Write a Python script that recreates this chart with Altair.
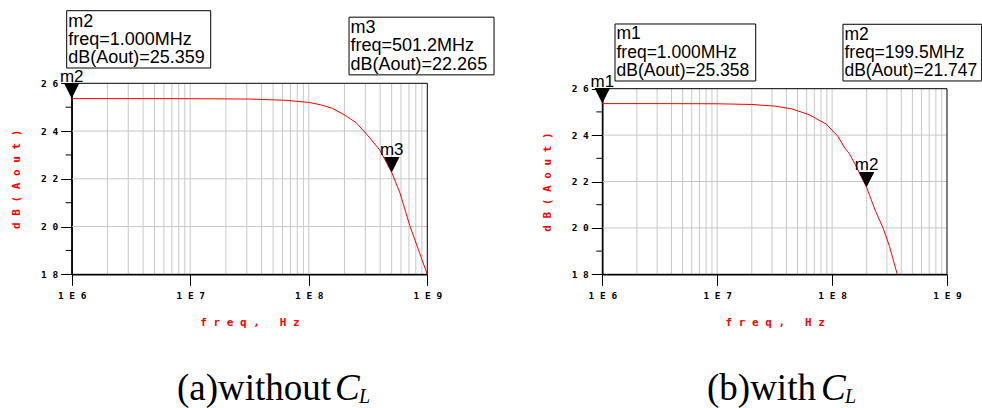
import altair as alt
import pandas as pd

W, H = 982, 408

# ---------------- data ----------------
# (a) without C_L
freq_a_mhz = [1, 3.16, 10, 31.6, 63.1, 100, 125.9, 158.5, 199.5, 251.2, 316.2,
              398.1, 501.2, 588.8, 716.1, 841.4, 1000]
db_a = [25.359, 25.358, 25.355, 25.34, 25.29, 25.2, 25.1, 24.95, 24.68, 24.35,
        23.8, 23.2, 22.265, 21.4, 20.0, 19.03, 18.0]
# (b) with C_L
freq_b_mhz = [1, 3.16, 10, 20, 31.6, 44.7, 63.1, 89.1, 112.2, 128.8, 141.3,
              158.5, 199.5, 239.9, 278.6, 316.2, 369]
db_b = [25.358, 25.357, 25.35, 25.32, 25.25, 25.13, 24.88, 24.47, 23.95, 23.45,
        23.2, 22.75, 21.747, 20.7, 19.98, 19.2, 18.0]

# markers
mk_a_names = ["m2", "m3"]
mk_a_freq_mhz = [1.000, 501.2]
mk_a_freq_text = ["1.000MHz", "501.2MHz"]
mk_a_db = [25.359, 22.265]
mk_b_names = ["m1", "m2"]
mk_b_freq_mhz = [1.000, 199.5]
mk_b_freq_text = ["1.000MHz", "199.5MHz"]
mk_b_db = [25.358, 21.747]

# axes
x_domain = [1e6, 1e9]
y_domain = [18, 26]
x_tick_values = [1000000, 10000000, 100000000, 1000000000]
x_tick_labels = ["1 E 6", "1 E 7", "1 E 8", "1 E 9"]
y_tick_values = [18, 20, 22, 24, 26]
y_tick_labels = ["1 8", "2 0", "2 2", "2 4", "2 6"]
y_minor_values = [19, 21, 23, 25]
y_grid_values = [20, 22, 24]
x_grid_mantissa = [2, 3, 4, 5, 6, 7, 8, 9]
x_grid_decades = [1e6, 1e7, 1e8]

NB = "\u00a0"
x_title = NB.join(list("freq,")) + NB * 3 + NB.join(list("Hz"))
y_title = NB.join(list("dB(Aout)"))
y_label_name = "dB(Aout)"

captions = {"a": "(a)without", "b": "(b)with"}
cap_sym = "C"
cap_sub = "L"

MONO = "DejaVu Sans Mono"
SANS = "Liberation Sans"
SERIF = "Liberation Serif"
TRI = "M-1,-2L1,-2L0,0Z"


def js_list(vals):
    return "[" + ",".join(repr(v) if isinstance(v, str) else str(v) for v in vals) + "]"


def panel(freq_mhz, db, names, mfreq, mftext, mdb, xr, yr, boxes, fs,
          cap_key, cap_x, c_x, l_x):
    x_expr = f"{js_list(x_tick_labels)}[indexof({js_list(x_tick_values)}, datum.value)]"
    y_expr = f"{js_list(y_tick_labels)}[indexof({js_list(y_tick_values)}, datum.value)]"
    xaxis = alt.Axis(
        orient="bottom", offset=-(H - yr[0]), values=x_tick_values, labelExpr=x_expr,
        grid=False, tickSize=11, tickColor="black", tickWidth=1,
        domainColor="black", domainWidth=1.5,
        labelFont=MONO, labelFontWeight="bold", labelFontSize=9.5, labelColor="black",
        labelPadding=5, labelFlush=False, labelOverlap=False,
        title=x_title, titleColor="red", titleFont=MONO, titleFontWeight="bold",
        titleFontSize=11, titleX=(xr[0] + xr[1]) / 2, titleY=51,
        titleBaseline="alphabetic", titleAlign="center",
    )
    yaxis = alt.Axis(
        orient="left", offset=-xr[0], values=y_tick_values, labelExpr=y_expr,
        grid=False, tickSize=11, tickColor="black", tickWidth=1,
        domainColor="black", domainWidth=1.5,
        labelFont=MONO, labelFontWeight="bold", labelFontSize=9.5, labelColor="black",
        labelPadding=3, labelFlush=False, labelOverlap=False, labelAlign="right",
        labelBaseline="middle",
        title=y_title, titleColor="red", titleFont=MONO, titleFontWeight="bold",
        titleFontSize=11, titleAngle=270, titleX=-55,
        titleY=(yr[0] + yr[1]) / 2, titleBaseline="middle", titleAlign="center",
    )

    def X(field):
        return alt.X(field, type="quantitative",
                     scale=alt.Scale(type="log", domain=x_domain, range=xr),
                     axis=xaxis)

    def Y(field):
        return alt.Y(field, type="quantitative",
                     scale=alt.Scale(domain=y_domain, range=[yr[0], yr[1]]),
                     axis=yaxis)

    line_df = pd.DataFrame({"f": [v * 1e6 for v in freq_mhz], "db": db})
    vgrid_df = pd.DataFrame({
        "f": [m * d for d in x_grid_decades for m in x_grid_mantissa] + x_grid_decades[1:],
    })
    vgrid_df["db"] = y_domain[0]
    vgrid_df["db2"] = y_domain[1]
    hgrid_df = pd.DataFrame({"db": y_grid_values})
    hgrid_df["f"] = x_domain[0]
    hgrid_df["f2"] = x_domain[1]
    minor_df = pd.DataFrame({"db": y_minor_values})
    minor_df["f"] = x_domain[0]
    frame_df = pd.DataFrame({"f": [x_domain[0]], "f2": [x_domain[1]],
                             "db": [y_domain[0]], "db2": [y_domain[1]]})
    mk_df = pd.DataFrame({
        "f": [v * 1e6 for v in mfreq], "db": mdb, "name": names,
        "txt": [f"{n}\nfreq={ft}\n{y_label_name}={v:.3f}" for n, ft, v in zip(names, mftext, mdb)],
    })

    grid_col = "#c8c8c8"
    layers = [
        alt.Chart(hgrid_df).mark_rule(color=grid_col, strokeWidth=1).encode(
            x=X("f"), x2=alt.X2("f2"), y=Y("db")),
        alt.Chart(vgrid_df).mark_rule(color=grid_col, strokeWidth=1).encode(
            x=X("f"), y=Y("db"), y2=alt.Y2("db2")),
        alt.Chart(frame_df).mark_rect(fillOpacity=0, stroke="black", strokeWidth=1).encode(
            x=X("f"), x2=alt.X2("f2"), y=Y("db"), y2=alt.Y2("db2")),
        alt.Chart(minor_df).mark_rule(color="black", strokeWidth=1, xOffset=-6, x2Offset=0).encode(
            x=X("f"), x2=alt.X2("f"), y=Y("db")),
        alt.Chart(line_df).mark_line(color="#ff0000", strokeWidth=1).encode(
            x=X("f"), y=Y("db")),
        alt.Chart(mk_df).mark_point(shape=TRI, size=240, filled=True, color="black",
                                    opacity=1, strokeWidth=0).encode(
            x=X("f"), y=Y("db")),
        alt.Chart(mk_df).mark_text(align="center", baseline="alphabetic", dy=-17,
                                   font=SANS, fontSize=17, color="black").encode(
            x=X("f"), y=Y("db"), text="name"),
    ]
    for i, (x0, x1, y0, y1, tdy) in enumerate(boxes):
        sub = mk_df.iloc[[i]]
        layers.append(
            alt.Chart(sub).mark_rect(fill="white", stroke="black", strokeWidth=1,
                                     xOffset=x0, x2Offset=x1, yOffset=y0, y2Offset=y1).encode(
                x=X("f"), x2=alt.X2("f"), y=Y("db"), y2=alt.Y2("db")))
        layers.append(
            alt.Chart(sub).mark_text(align="left", baseline="alphabetic", dx=x0 + 1.5,
                                     dy=y0 + tdy, lineBreak="\n", lineHeight=18.3,
                                     font=SANS, fontSize=fs, color="black").encode(
                x=X("f"), y=Y("db"), text="txt"))
    cap_df = pd.DataFrame({"t": [captions[cap_key]], "c": [cap_sym], "l": [cap_sub]})
    layers.append(alt.Chart(cap_df).mark_text(align="left", baseline="alphabetic",
                                              font=SERIF, fontSize=37, color="black").encode(
        x=alt.value(cap_x), y=alt.value(400), text="t"))
    layers.append(alt.Chart(cap_df).mark_text(align="left", baseline="alphabetic",
                                              font=SERIF, fontSize=37, fontStyle="italic",
                                              color="black").encode(
        x=alt.value(c_x), y=alt.value(400), text="c"))
    layers.append(alt.Chart(cap_df).mark_text(align="left", baseline="alphabetic",
                                              font=SERIF, fontSize=20, fontStyle="italic",
                                              color="black").encode(
        x=alt.value(l_x), y=alt.value(403), text="l"))
    return alt.layer(*layers)


pa = panel(freq_a_mhz, db_a, mk_a_names, mk_a_freq_mhz, mk_a_freq_text, mk_a_db,
           xr=[71.7, 427.3], yr=[274.3, 83.3],
           boxes=[(-5, 139, -87.9, -30.6, 16), (-42.7, 102.3, -155.3, -97.6, 16)],
           fs=18, cap_key="a", cap_x=177, c_x=335, l_x=359)
pb = panel(freq_b_mhz, db_b, mk_b_names, mk_b_freq_mhz, mk_b_freq_text, mk_b_db,
           xr=[602.3, 947.0], yr=[274.3, 88.7],
           boxes=[(12.7, 153.4, -79.6, -22.6, 15.3), (-23.6, 115.1, -163.1, -106.4, 15.3)],
           fs=17.5, cap_key="b", cap_x=707, c_x=821, l_x=845)

chart = alt.layer(pa, pb).resolve_scale(x="independent", y="independent").properties(
    width=W, height=H, padding=0, background="white",
    autosize=alt.AutoSizeParams(type="none"),
).configure_view(strokeWidth=0)

chart.save("out.html", embed_options={"renderer": "svg", "actions": False})
